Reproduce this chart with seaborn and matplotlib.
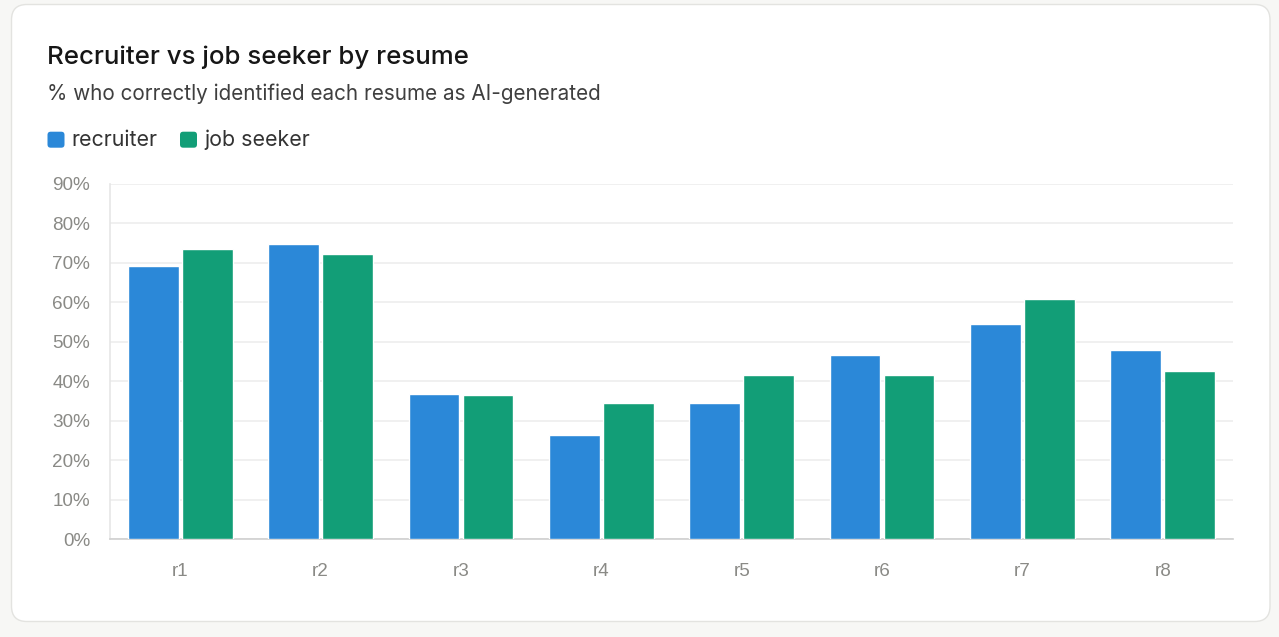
import matplotlib
matplotlib.use("Agg")
import matplotlib.pyplot as plt
from matplotlib.patches import FancyBboxPatch
import seaborn as sns
import pandas as pd

# ---- data ----
categories = ["r1", "r2", "r3", "r4", "r5", "r6", "r7", "r8"]
recruiter = [69.1, 74.7, 36.8, 26.3, 34.5, 46.7, 54.4, 47.9]
job_seeker = [73.5, 72.3, 36.5, 34.5, 41.5, 41.7, 60.9, 42.6]
series_names = ["recruiter", "job seeker"]
series_colors = ["#2B88D8", "#129E77"]
y_ticks = [0, 10, 20, 30, 40, 50, 60, 70, 80, 90]

title = "Recruiter vs job seeker by resume"
subtitle = "% who correctly identified each resume as AI-generated"

df = pd.DataFrame({
    "resume": categories * 2,
    "value": recruiter + job_seeker,
    "group": [series_names[0]] * len(categories) + [series_names[1]] * len(categories),
})

sns.set_theme(style="white")
plt.rcParams["font.family"] = ["Inter", "DejaVu Sans"]

W, H = 1279, 637
fig = plt.figure(figsize=(W / 100, H / 100), dpi=100)
fig.patch.set_facecolor("#F7F7F5")

def fx(px):
    return px / W

def fy(py):
    return 1 - py / H

# card
card = FancyBboxPatch((fx(11.5), fy(621.5)), fx(1270 - 11.5), (621.5 - 4.5) / H,
                      boxstyle="round,pad=0,rounding_size=0.012",
                      transform=fig.transFigure, facecolor="white",
                      edgecolor="#E3E3E0", linewidth=1.0, zorder=-5,
                      mutation_aspect=W / H)
fig.patches.append(card)

ax = fig.add_axes([fx(110), fy(539.3), fx(1233 - 110), (539.3 - 183.7) / H])
ax.set_facecolor("none")
ax.set_zorder(2)

sns.barplot(data=df, x="resume", y="value", hue="group", order=categories,
            hue_order=series_names, palette=series_colors, width=0.77, gap=0.06,
            ax=ax, legend=False, saturation=1, linewidth=1.0, edgecolor="white", zorder=3)

ax.set_ylim(0, 90)
ax.set_xlim(-0.5, len(categories) - 0.5)
ax.set_yticks(y_ticks)
ax.set_yticklabels([f"{t}%" for t in y_ticks])
ax.set_xlabel("")
ax.set_ylabel("")
ax.grid(axis="y", color="#EDEDED", linewidth=1.2, zorder=0)
ax.grid(axis="x", visible=False)
ax.set_axisbelow(True)
for s in ["top", "right"]:
    ax.spines[s].set_visible(False)
ax.spines["left"].set_color("#E6E6E6")
ax.spines["left"].set_linewidth(1.2)
ax.spines["bottom"].set_color("#CFCFCF")
ax.spines["bottom"].set_linewidth(1.2)
ax.tick_params(axis="y", length=10, width=1.2, color="#EDEDED", pad=4.3,
               labelsize=13.6, labelcolor="#8A8A86")
ax.tick_params(axis="x", length=0, pad=17, labelsize=13.6, labelcolor="#8A8A86")
for lab in ax.get_xticklabels() + ax.get_yticklabels():
    lab.set_fontfamily(["Liberation Sans", "DejaVu Sans"])

# title / subtitle
fig.text(fx(47), fy(57), title, fontsize=18.6, fontweight="medium",
         color="#161616", va="center", ha="left")
fig.text(fx(47), fy(94), subtitle, fontsize=14.9, color="#3F3F3F", va="center", ha="left")

# legend
lx = [47.5, 180]
for name, col, x0 in zip(series_names, series_colors, lx):
    sq = FancyBboxPatch((fx(x0), fy(147.7)), fx(17), 16 / H,
                        boxstyle="round,pad=0,rounding_size=0.0025",
                        transform=fig.transFigure, facecolor=col, edgecolor="none",
                        mutation_aspect=W / H)
    fig.patches.append(sq)
    fig.text(fx(x0 + 24), fy(140), name, fontsize=15.4, color="#333333",
             va="center", ha="left")

fig.savefig("out.png", dpi=100, facecolor=fig.get_facecolor())
